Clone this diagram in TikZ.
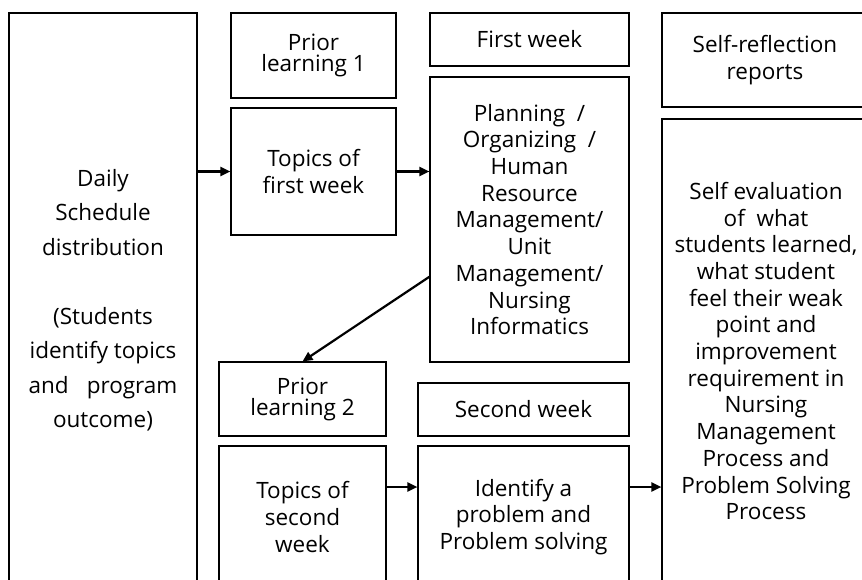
\documentclass[tikz,border=0pt]{standalone}
\usepackage{fontspec}
\setmainfont{Open Sans}
\usetikzlibrary{arrows.meta,calc}

\begin{document}
\begin{tikzpicture}
  [x=1pt,y=-1pt,auto,every node/.style={rectangle,draw,align=center,line width=1.1pt,inner sep=0pt,font=\fontsize{22.5}{26.7}\selectfont},
   link/.style={-{Triangle[length=10pt,width=9pt]},line width=2.2pt}]
\useasboundingbox (0,0) rectangle (862,580);
\clip (0,0) rectangle (862,580);
  \node (sched) at (103,300) [minimum width=188pt,minimum height=574pt,font=\fontsize{22.5}{34.5}\selectfont]
    {Daily\\Schedule\\distribution\\[34.5pt](Students\\identify topics\\and\hspace{0.8em}program\\outcome)};
  \node (prior1) at (313.5,55.5) [minimum width=165pt,minimum height=85pt,font=\fontsize{22.5}{21}\selectfont] {Prior\\learning 1};
  \node (topic1) at (313.5,171.5) [minimum width=165pt,minimum height=127pt] {Topics of\\first week};
  \node (week1) at (529.5,39.5) [minimum width=199pt,minimum height=53pt] {First week};
  \node (plan) at (529.5,219.5) [minimum width=199pt,minimum height=285pt]
    {Planning\ \ /\\Organizing\ \ /\\Human\\Resource\\Management/\\Unit\\Management/\\Nursing\\Informatics};
  \node (reflect) at (765,60) [minimum width=206pt,minimum height=94pt] {Self-reflection\\reports};
  \node (selfeval) at (766,351) [minimum width=208pt,minimum height=464pt]
    {Self evaluation\\of\ \ what\\students learned,\\what student\\feel their weak\\point and\\improvement\\requirement in\\Nursing\\Management\\Process and\\Problem Solving\\Process};
  \node (prior2) at (302.5,399) [minimum width=167pt,minimum height=74pt,font=\fontsize{22.5}{21}\selectfont] {Prior\\learning 2};
  \node (week2) at (523.5,409.5) [minimum width=211pt,minimum height=53pt] {Second week};
  \node (topic2) at (302.5,517) [minimum width=167pt,minimum height=142pt] {Topics of\\second\\week};
  \node (ident) at (523.5,517) [minimum width=211pt,minimum height=142pt] {Identify a\\problem and\\Problem solving};
% arrows
  \draw[link] (sched.east |- topic1.west) -- (topic1.west);
  \draw[link] (topic1.east) -- (topic1.east -| plan.west);
  \draw[link] ($(plan.south west)!0.3!(plan.north west)$) -- (prior2.north);
  \draw[link] ([yshift=30pt]topic2.east) -- ([yshift=30pt]topic2.east -| ident.west);
  \draw[link] ([yshift=30pt]ident.east) -- ([yshift=30pt]ident.east -| selfeval.west);
\end{tikzpicture}
\end{document}
